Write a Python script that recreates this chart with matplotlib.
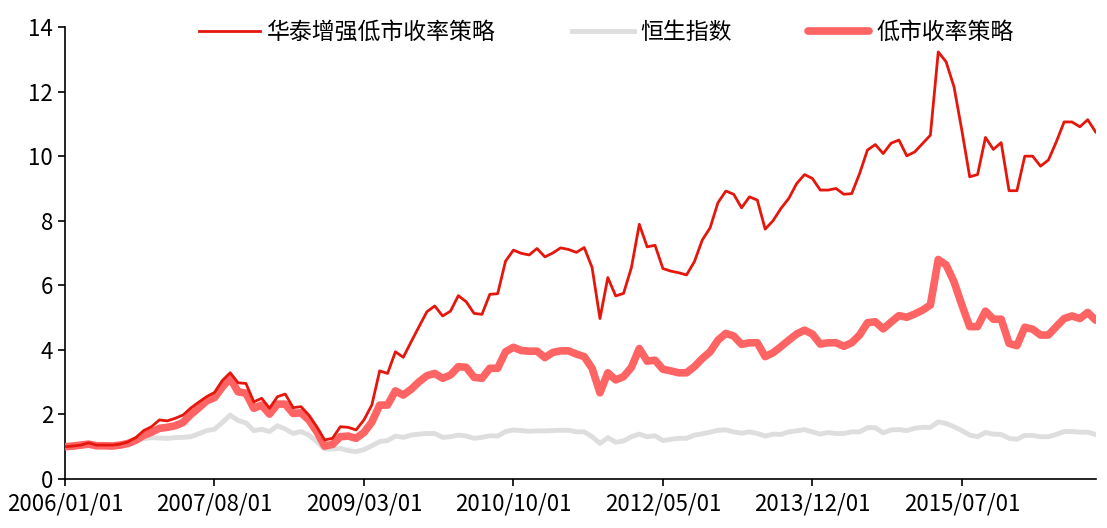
import numpy as np
import pandas as pd
import matplotlib
matplotlib.use("Agg")
import matplotlib.pyplot as plt

plt.rcParams['font.family'] = ['Noto Sans CJK SC', 'DejaVu Sans']

# monthly data, 2006/01 .. 2016/12
dates = pd.date_range('2006-01-01', periods=132, freq='MS')

enhanced = [1.00, 1.02, 1.05, 1.12, 1.05, 1.05, 1.05, 1.08, 1.15, 1.28,
            1.50, 1.62, 1.83, 1.80, 1.88, 1.98, 2.20, 2.38, 2.55, 2.68,
            3.05, 3.29, 2.98, 2.96, 2.39, 2.50, 2.19, 2.55, 2.63, 2.21,
            2.24, 1.98, 1.62, 1.21, 1.26, 1.62, 1.60, 1.52, 1.83, 2.29,
            3.35, 3.27, 3.94, 3.77, 4.25, 4.72, 5.18, 5.36, 5.05, 5.20,
            5.68, 5.49, 5.13, 5.10, 5.72, 5.74, 6.75, 7.09, 6.99, 6.94,
            7.14, 6.88, 7.00, 7.16, 7.11, 7.02, 7.17, 6.55, 4.97, 6.24,
            5.67, 5.75, 6.55, 7.89, 7.19, 7.24, 6.52, 6.44, 6.39, 6.32,
            6.73, 7.40, 7.78, 8.56, 8.92, 8.82, 8.40, 8.74, 8.64, 7.74,
            8.00, 8.38, 8.69, 9.15, 9.43, 9.31, 8.95, 8.95, 9.00, 8.82,
            8.84, 9.46, 10.19, 10.36, 10.08, 10.40, 10.50, 10.01, 10.13, 10.39,
            10.65, 13.23, 12.92, 12.15, 10.80, 9.36, 9.43, 10.58, 10.21, 10.42,
            8.93, 8.93, 10.00, 10.00, 9.69, 9.88, 10.44, 11.06, 11.06, 10.91,
            11.13, 10.75]

hsi = [1.00, 1.02, 1.05, 1.10, 1.05, 1.06, 1.07, 1.08, 1.12, 1.18,
       1.25, 1.28, 1.27, 1.26, 1.28, 1.29, 1.31, 1.40, 1.50, 1.54,
       1.75, 1.98, 1.81, 1.74, 1.50, 1.54, 1.47, 1.65, 1.55, 1.41,
       1.47, 1.36, 1.16, 0.93, 0.93, 0.95, 0.88, 0.85, 0.91, 1.03,
       1.16, 1.19, 1.33, 1.29, 1.36, 1.39, 1.41, 1.41, 1.29, 1.31,
       1.36, 1.33, 1.26, 1.29, 1.34, 1.33, 1.47, 1.52, 1.50, 1.48,
       1.49, 1.49, 1.50, 1.51, 1.51, 1.46, 1.46, 1.31, 1.10, 1.28,
       1.14, 1.18, 1.31, 1.39, 1.31, 1.34, 1.19, 1.23, 1.26, 1.26,
       1.36, 1.40, 1.45, 1.51, 1.52, 1.46, 1.42, 1.46, 1.41, 1.33,
       1.39, 1.38, 1.46, 1.49, 1.53, 1.46, 1.39, 1.44, 1.41, 1.41,
       1.46, 1.46, 1.59, 1.59, 1.43, 1.52, 1.53, 1.50, 1.57, 1.60,
       1.60, 1.77, 1.72, 1.62, 1.50, 1.36, 1.31, 1.44, 1.39, 1.38,
       1.26, 1.23, 1.35, 1.35, 1.31, 1.31, 1.38, 1.47, 1.47, 1.45,
       1.45, 1.38]

low_pe = [1.00, 1.02, 1.05, 1.08, 1.03, 1.03, 1.02, 1.05, 1.10, 1.20,
          1.35, 1.45, 1.57, 1.60, 1.65, 1.75, 2.00, 2.20, 2.42, 2.52,
          2.85, 3.12, 2.70, 2.66, 2.19, 2.29, 2.01, 2.32, 2.32, 2.03,
          2.05, 1.83, 1.47, 1.02, 1.07, 1.31, 1.33, 1.26, 1.44, 1.76,
          2.29, 2.29, 2.73, 2.60, 2.78, 3.01, 3.20, 3.27, 3.12, 3.22,
          3.48, 3.46, 3.15, 3.12, 3.43, 3.43, 3.94, 4.08, 3.98, 3.96,
          3.96, 3.76, 3.92, 3.97, 3.97, 3.87, 3.79, 3.43, 2.67, 3.29,
          3.07, 3.17, 3.46, 4.04, 3.65, 3.68, 3.40, 3.35, 3.29, 3.29,
          3.48, 3.73, 3.94, 4.30, 4.51, 4.43, 4.17, 4.22, 4.22, 3.79,
          3.91, 4.10, 4.30, 4.49, 4.61, 4.49, 4.18, 4.22, 4.22, 4.11,
          4.22, 4.46, 4.84, 4.87, 4.65, 4.86, 5.06, 5.01, 5.11, 5.23,
          5.39, 6.80, 6.63, 6.11, 5.39, 4.72, 4.72, 5.20, 4.95, 4.95,
          4.20, 4.13, 4.70, 4.64, 4.46, 4.46, 4.72, 4.97, 5.05, 4.97,
          5.16, 4.92]

x = np.arange(len(dates))

fig = plt.figure(figsize=(11.07, 5.28), dpi=100)
ax = fig.add_axes([0.0587, 0.0928, 0.931, 0.856])

ax.plot(x, enhanced, color='#E5160B', lw=2.0, label='华泰增强低市收率策略', zorder=4)
ax.plot(x, hsi, color='#DEDEDE', lw=3.5, label='恒生指数', zorder=2)
ax.plot(x, low_pe, color='#FF6464', lw=5.5, label='低市收率策略', zorder=3,
        solid_capstyle='round')

ax.set_xlim(0, len(x) - 1)
ax.set_ylim(0, 14)
ax.set_yticks(np.arange(0, 15, 2))
ticks = x[::19]
ax.set_xticks(ticks)
ax.set_xticklabels([dates[i].strftime('%Y/%m/%d') for i in ticks])

for s in ['top', 'right']:
    ax.spines[s].set_visible(False)
ax.spines['left'].set_linewidth(1.2)
ax.spines['bottom'].set_linewidth(1.2)
ax.tick_params(axis='both', labelsize=16, direction='out', length=5, width=1.2)
ax.tick_params(axis='x', pad=5)

ax.legend(loc='upper center', bbox_to_anchor=(0.525, 1.06), ncol=3, frameon=False,
          fontsize=16.5, handlelength=2.7, columnspacing=3.3, handletextpad=0.3)

fig.savefig('out.png', dpi=100)
